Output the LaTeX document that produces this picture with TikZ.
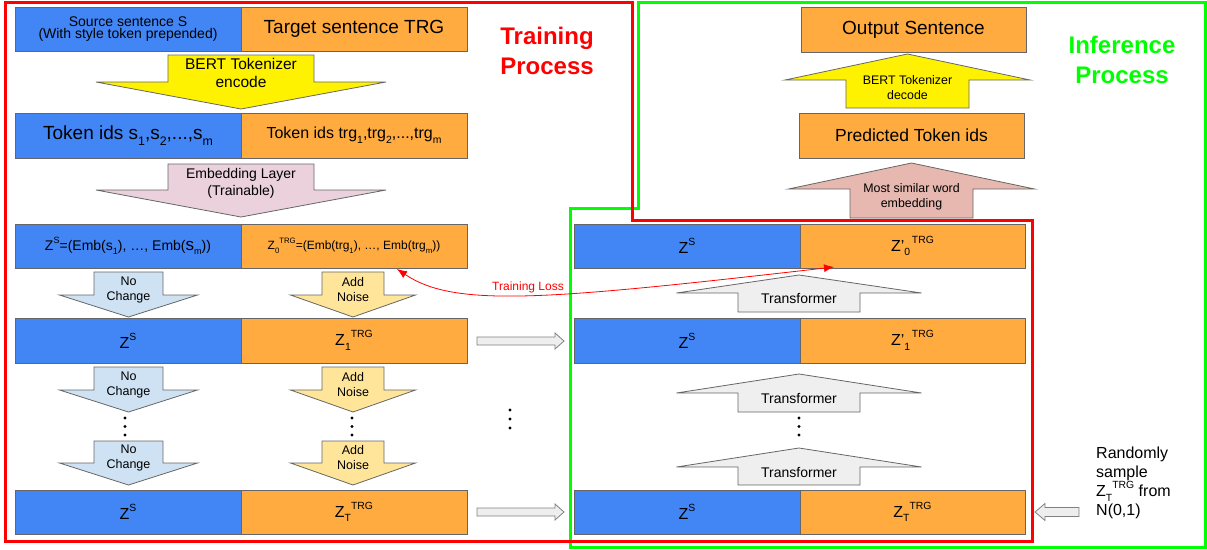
\documentclass[tikz,border=0pt]{standalone}
\usepackage{fontspec}
\setmainfont{Liberation Sans}
\usetikzlibrary{arrows.meta}
\definecolor{zblue}{HTML}{4285F4}
\definecolor{zorange}{HTML}{FFAB40}
\definecolor{zline}{HTML}{666666}
\definecolor{zpink}{HTML}{EAD1DC}
\definecolor{zsalmon}{HTML}{E6B8AF}
\definecolor{zlblue}{HTML}{CFE2F3}
\definecolor{zlyellow}{HTML}{FFE599}
\definecolor{zgray}{HTML}{EFEFEF}
\definecolor{zhollow}{HTML}{EEEEEE}
\definecolor{zred}{HTML}{FF0000}
\definecolor{zgreen}{HTML}{00FF00}
\newcommand\lsub[1]{\raisebox{-0.55ex}{\scalebox{0.65}{#1}}}
\newcommand\lsup[1]{\raisebox{0.95ex}{\scalebox{0.65}{#1}}}
\newcommand\fs[1]{\fontsize{#1}{\fpeval{1.2*#1}}\selectfont}
% vertical block arrow: style, cx, shaft half width, head half width, shaft end y, head base y, tip y
\newcommand\vblock[7]{\draw[#1] ({#2-#3},#5) -- ({#2+#3},#5) -- ({#2+#3},#6) -- ({#2+#4},#6) -- (#2,#7) -- ({#2-#4},#6) -- ({#2-#3},#6) -- cycle;}
% horizontal block arrow: style, cy, shaft half height, head half height, shaft end x, head base x, tip x
\newcommand\hblock[7]{\draw[#1] (#5,{#2-#3}) -- (#6,{#2-#3}) -- (#6,{#2-#4}) -- (#7,#2) -- (#6,{#2+#4}) -- (#6,{#2+#3}) -- (#5,{#2+#3}) -- cycle;}
% three vertical dots: cx, top y, step
\newcommand\vdotsat[3]{\fill (#1,#2) circle[radius=1.6] (#1,{#2+#3}) circle[radius=1.6] (#1,{#2+2*#3}) circle[radius=1.6];}
\begin{document}
\begin{tikzpicture}[x=1pt,y=-1pt,
  rowbox/.style={draw=zline, line width=0.9pt, inner sep=0pt, align=center, text=black},
  bl/.style={rowbox, fill=zblue, minimum width=226, minimum height=44},
  orb/.style={rowbox, fill=zorange, minimum width=226, minimum height=44},
  arr/.style={draw=zline, line width=0.8pt, line join=miter},
  hollow/.style={draw=gray, fill=zhollow, line width=0.8pt},
  lbl/.style={inner sep=0pt, align=center, text=black},
  title/.style={inner sep=0pt, align=center, font=\fs{24}\bfseries}
]
\useasboundingbox (0,0) rectangle (1207,549);

% ---- frames
\draw[zgreen, line width=3pt] (638,2) -- (1205,2) -- (1205,547) -- (570,547) -- (570,208) -- (638,208) -- cycle;
\draw[zred, line width=3pt] (5,2) -- (632,2) -- (632,220) -- (1032,220) -- (1032,541) -- (5,541) -- cycle;

\node[title, text=zred] (ttrain) at (547,51) {Training\\[2pt]Process};
\node[title, text=zgreen] (tinfer) at (1122,60) {Inference\\[2pt]Process};

% ---- left column rows
\node[bl] (src) at (128,29) {\fs{14}Source sentence S\\\fs{14}(With style token prepended)};
\node[orb] (trg) at (354,29) {\fs{19}Target sentence TRG};

\node[bl, minimum height=45] (sid) at (128,135.5) {\fs{19}Token ids s\lsub{1},s\lsub{2},...,s\lsub{m}};
\node[orb, minimum height=45] (tid) at (354,135.5) {\fs{16}Token ids trg\lsub{1},trg\lsub{2},...,trg\lsub{m}};

\node[bl] (zs0) at (128,246) {\fs{14}Z\lsup{S}=(Emb(s\lsub{1}), \dots, Emb({\fs{17}s}\lsub{m}))};
\node[orb] (zt0) at (354,246) {\fs{12}Z\lsub{0}\lsup{TRG}=(Emb(trg\lsub{1}), \dots, Emb(trg\lsub{m}))};

\node[bl, minimum height=45] (zs1) at (128,340.5) {\fs{16}Z\lsup{S}};
\node[orb, minimum height=45] (zt1) at (354,340.5) {\fs{16}Z\lsub{1}\lsup{TRG}};

\node[bl] (zsT) at (128,512) {\fs{16}Z\lsup{S}};
\node[orb] (ztT) at (354,512) {\fs{16}Z\lsub{T}\lsup{TRG}};

% ---- left column block arrows
\vblock{arr, fill=yellow}{241}{73}{145}{55}{82}{109}
\node[lbl, font=\fs{15.5}] (enc) at (241,73) {BERT Tokenizer\\encode};
\vblock{arr, fill=zpink}{241}{73}{145}{164}{190}{217}
\node[lbl, font=\fs{14}] (emb) at (241,183) {Embedding Layer\\(Trainable)};

\vblock{arr, fill=zlblue}{128.5}{34.5}{69}{272}{295}{317}
\node[lbl, font=\fs{12.5}] (nc1) at (128.5,290) {No\\Change};
\vblock{arr, fill=zlyellow}{353}{31}{62.5}{272}{295}{317}
\node[lbl, font=\fs{12.5}] (an1) at (353,290) {Add\\Noise};

\vblock{arr, fill=zlblue}{128.5}{34.5}{69}{367}{390}{412}
\node[lbl, font=\fs{12.5}] (nc2) at (128.5,385) {No\\Change};
\vblock{arr, fill=zlyellow}{353}{31}{62.5}{367}{390}{412}
\node[lbl, font=\fs{12.5}] (an2) at (353,385) {Add\\Noise};

\vdotsat{125}{418}{8.5}
\vdotsat{352}{418}{8.5}

\vblock{arr, fill=zlblue}{128.5}{34.5}{69}{441}{463}{485}
\node[lbl, font=\fs{12.5}] (nc3) at (128.5,458) {No\\Change};
\vblock{arr, fill=zlyellow}{353}{31}{62.5}{441}{463}{485}
\node[lbl, font=\fs{12.5}] (an3) at (353,458) {Add\\Noise};

\vdotsat{510}{410}{9}

% ---- hollow arrows
\hblock{hollow}{341}{4}{8}{477}{555}{564}
\hblock{hollow}{512}{4}{8}{477}{555}{564}
\hblock{hollow}{512}{4.5}{8.5}{1079}{1045}{1035}

% ---- right column
\node[orb, minimum width=225, minimum height=45] (out) at (913.5,29.5) {\fs{19}Output Sentence};
\node[orb, minimum width=225, minimum height=45] (pred) at (911.5,135.5) {\fs{17.5}Predicted Token ids};

\vblock{arr, fill=yellow}{907.5}{61.5}{122.5}{108}{80}{54}
\node[lbl, font=\fs{12.4}] (dec) at (907.5,88) {BERT Tokenizer\\decode};
\vblock{arr, fill=zsalmon}{911.5}{61.5}{123}{218}{189}{163}
\node[lbl, font=\fs{12.4}] (msw) at (911.5,197) {Most similar word\\embedding};

\node[bl] (rzs0) at (687,246) {\fs{16}Z\lsup{S}};
\node[orb, minimum width=225] (rzt0) at (912.5,246) {\fs{16}Z'\lsub{0}\lsup{\,TRG}};

\vblock{arr, fill=zgray}{799}{61}{122.5}{312}{293}{275}
\node[lbl, font=\fs{14}] (tf1) at (799,298) {Transformer};

\node[bl, minimum height=45] (rzs1) at (687,340.5) {\fs{16}Z\lsup{S}};
\node[orb, minimum width=225, minimum height=45] (rzt1) at (912.5,340.5) {\fs{16}Z'\lsub{1}\lsup{\,TRG}};

\vblock{arr, fill=zgray}{799}{61}{122.5}{412}{393}{374}
\node[lbl, font=\fs{14}] (tf2) at (799,398) {Transformer};

\vdotsat{799}{418}{8.5}

\vblock{arr, fill=zgray}{799}{61}{122.5}{485}{467}{448}
\node[lbl, font=\fs{14}] (tf3) at (799,472) {Transformer};

\node[bl] (rzsT) at (687,512) {\fs{16}Z\lsup{S}};
\node[orb, minimum width=225] (rztT) at (912.5,512) {\fs{16}Z\lsub{T}\lsup{TRG}};

\node[inner sep=0pt, align=left, anchor=north west, font=\fontsize{16}{19}\selectfont] (rand) at (1096,447) {Randomly\\sample\\Z\lsub{T}\lsup{TRG} from\\N(0,1)};

% ---- training loss
\coordinate (tl1) at (397,269);
\coordinate (tl2) at (834,267);
\draw[zred, line width=0.8pt, {Latex[length=10,width=8]}-{Latex[length=10,width=8]}] (tl1) .. controls (455,308) and (545,300) .. (tl2);
\node[lbl, text=zred, font=\fs{12}] (tloss) at (528,287) {Training Loss};
\end{tikzpicture}
\end{document}
